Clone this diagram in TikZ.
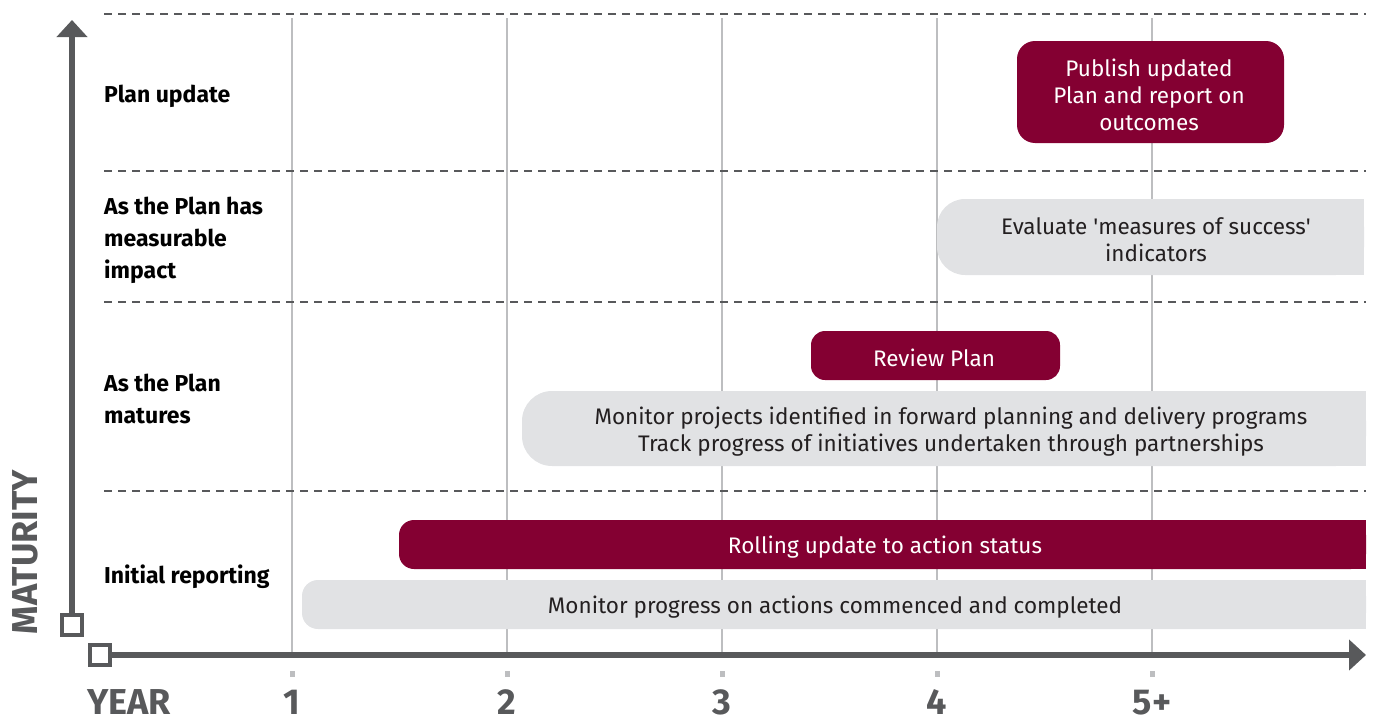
\documentclass[tikz,border=0pt]{standalone}
\usepackage{fontspec}
\setmainfont{Fira Sans}
\usetikzlibrary{arrows.meta}
\definecolor{maroon}{HTML}{840032}
\definecolor{boxgray}{HTML}{E1E2E4}
\definecolor{axisgray}{HTML}{58595B}
\definecolor{gridgray}{HTML}{BDBEC0}
\definecolor{ink}{HTML}{231F20}
\tikzset{
  rowlabel/.style={anchor=west, align=left, font=\fontsize{23}{32}\selectfont\bfseries, text=black, inner sep=0},
  boxtext/.style={align=center, font=\fontsize{22.5}{27}\selectfont, inner sep=0},
  graytext/.style={boxtext, text=ink},
  redtext/.style={boxtext, text=white},
  divider/.style={axisgray, line width=2.2pt, dash pattern=on 8pt off 6pt},
  gridline/.style={gridgray, line width=1.4pt},
  axis/.style={axisgray, line width=6pt},
  corner/.style={draw=axisgray, fill=white, line width=4.5pt, minimum size=20pt, inner sep=0},
  axislabel/.style={font=\fontsize{36}{36}\selectfont\bfseries, text=axisgray, inner sep=0},
}
\begin{document}
\begin{tikzpicture}[x=1pt, y=-1pt]
\useasboundingbox (0,0) rectangle (1375,720);
% grid lines
\foreach \gx/\lab/\nm in {292/1/g1, 507/2/g2, 722/3/g3, 937/4/g4, 1152/5+/g5} {
  \draw[gridline] (\gx,18) -- (\gx,655);
  \fill[gridgray] (\gx-2.5,671) rectangle (\gx+2.5,677);
  \node[axislabel, anchor=base] (\nm) at (\gx,714) {\lab};
}
% dividers
\foreach \dy in {14,171,302,491} {
  \draw[divider] (104,\dy) -- (1366,\dy);
}
% row labels
\node[rowlabel] (r1) at (104,96) {Plan update};
\node[rowlabel] (r2) at (104,240) {As the Plan has\\measurable\\impact};
\node[rowlabel] (r3) at (104,399) {As the Plan\\matures};
\node[rowlabel] (r4) at (104,577) {Initial reporting};
% boxes
\fill[maroon, rounded corners=18pt] (1017,41) rectangle (1284,143);
\node[redtext] (b1) at (1149,95) {Publish updated\\Plan and report on\\outcomes};

\fill[boxgray, rounded corners=28pt] (937,199) rectangle (1364,275);
\fill[boxgray] (1300,199) rectangle (1364,275);
\node[graytext] (b2) at (1156,240) {Evaluate \textquotesingle measures of success\textquotesingle\\indicators};

\fill[maroon, rounded corners=14pt] (811,331) rectangle (1060,380);
\node[redtext] (b3) at (934,358) {Review Plan};

\fill[boxgray, rounded corners=30pt] (522,391) rectangle (1366,466);
\fill[boxgray] (1300,391) rectangle (1366,466);
\node[graytext] (b4) at (951,432) {Monitor projects identified in forward planning and delivery programs\\Track progress of initiatives undertaken through partnerships};

\fill[maroon, rounded corners=15pt] (399,520) rectangle (1366,569);
\fill[maroon] (1300,520) rectangle (1366,569);
\node[redtext] (b5) at (885,547) {Rolling update to action status};

\fill[boxgray, rounded corners=16pt] (302,580) rectangle (1366,629);
\fill[boxgray] (1300,580) rectangle (1366,629);
\node[graytext] (b6) at (835,607) {Monitor progress on actions commenced and completed};

% axes
\node[corner] (oy) at (72,625) {};
\node[corner] (ox) at (100,655) {};
\coordinate (ytip) at (72,20);
\coordinate (xtip) at (1366,655);
\draw[axis, -{Triangle[length=17pt,width=30pt]}] (oy.north) -- (ytip);
\draw[axis, -{Triangle[length=17pt,width=30pt]}] (ox.east) -- (xtip);
\node[axislabel, rotate=90] (mat) at (25,552) {MATURITY};
\node[axislabel, anchor=base west] (yr) at (87,714) {YEAR};
\end{tikzpicture}
\end{document}
